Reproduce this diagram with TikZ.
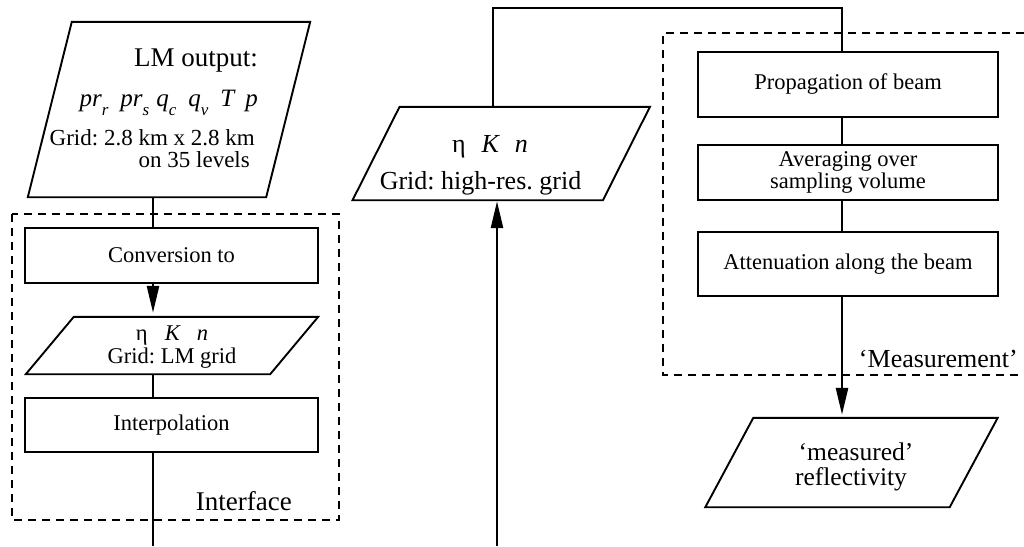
\documentclass[tikz,border=0pt]{standalone}
\usepackage{fontspec}
\setmainfont{Liberation Serif}
\usetikzlibrary{arrows.meta}
\frenchspacing
\newcommand\fs[1]{\fontsize{#1}{#1}\selectfont}
\newcommand\lsub[1]{\raisebox{-0.36em}{\fs{17}\itshape #1}}
% parallelogram drawn round an invisible node: #1 node name, #2 half of the slant
\newcommand\parashape[2]{\draw[line width=1.9pt, line join=miter]
  ([xshift=#2]#1.north west) -- ([xshift=#2]#1.north east) --
  ([xshift=-#2]#1.south east) -- ([xshift=-#2]#1.south west) -- cycle;}

\begin{document}
\begin{tikzpicture}[x=1pt, y=-1pt,
  box/.style={draw, line width=1.9pt, inner sep=0pt, font=\fs{22.5}, align=center},
  parabody/.style={inner sep=0pt},
  txt/.style={inner sep=0pt},
  conn/.style={line width=2.6pt, line join=miter},
  arr/.style={line width=2.6pt, -{Triangle[length=27pt,width=12pt]}},
  group/.style={line width=1.4pt, dash pattern=on 8pt off 6pt},
]
\useasboundingbox (0,0) rectangle (1024,546);

% column positions of the connectors
\coordinate (lcol) at (153,0);
\coordinate (mtop) at (493,0);
\coordinate (mcol) at (497,0);
\coordinate (rcol) at (842,0);
\coordinate (roof) at (0,8);
\coordinate (lend) at (153,546);
\coordinate (mstart) at (497,546);

% ---------- left column: interface ----------
\node[parabody, minimum width=238pt, minimum height=175pt] (lm) at (169,109.5) {};
\parashape{lm}{22pt}
\node[txt, anchor=base east, font=\fs{27}] (lmtitle) at (258,66) {LM output:};
\node[txt, anchor=base east, font=\fs{25}\itshape] (lmvars) at (258,106)
  {pr\lsub{r}\hspace{12pt}pr\lsub{s}\hspace{7pt}q\lsub{c}\hspace{12pt}q\lsub{v}\hspace{12pt}T\hspace{11pt}p};
\node[txt, anchor=base east, font=\fs{23}] (lmgrid) at (255,145) {Grid: 2.8 km x 2.8 km};
\node[txt, anchor=base east, font=\fs{23}] (lmlev) at (250,167) {on 35 levels};

\draw[group] (12,214) rectangle (339,520);
\node[txt, anchor=base east, font=\fs{27}] (iface) at (292,510) {Interface};

\node[box, minimum width=293pt, minimum height=55pt] (conv) at (171.5,255.5) {Conversion to};

\node[parabody, minimum width=244pt, minimum height=57pt] (p2) at (172,345.5) {};
\parashape{p2}{24pt}
\node[txt, anchor=base, font=\fs{22.5}] (p2vars) at (172,340)
  {η\hspace{17pt}{\itshape K}\hspace{17pt}{\itshape n}};
\node[txt, anchor=base, font=\fs{22.5}] (p2grid) at (172,363) {Grid: LM grid};

\node[box, minimum width=293pt, minimum height=54pt] (interp) at (171.5,425) {Interpolation};

% ---------- middle: high resolution fields ----------
\node[parabody, minimum width=250pt, minimum height=93pt] (p3) at (501.25,153.5) {};
\parashape{p3}{23.5pt}
\node[txt, anchor=base, font=\fs{26}] (p3vars) at (490,152)
  {η\hspace{16pt}{\itshape K}\hspace{16pt}{\itshape n}};
\node[txt, anchor=base, font=\fs{26}] (p3grid) at (480.5,189) {Grid: high-res. grid};

% ---------- right column: measurement ----------
\draw[group] (1024,33) -- (663,33) -- (663,375) -- (1024,375);
\node[txt, anchor=base east, font=\fs{26}] (meas) at (1018,367) {‘Measurement’};

\node[box, minimum width=300pt, minimum height=65pt] (prop) at (848,84.5) {Propagation of beam};
\node[box, minimum width=300pt, minimum height=55pt, font=\fontsize{22.5}{17}\selectfont] (avg) at (848,172.5)
  {Averaging over\\sampling volume};
\node[box, minimum width=300pt, minimum height=64pt] (atten) at (848,264) {Attenuation along the beam};

\node[parabody, minimum width=244pt, minimum height=89pt] (p4) at (851.5,462.5) {};
\parashape{p4}{24pt}
\node[txt, anchor=base, font=\fs{25.5}] (p4a) at (856,460) {‘measured’};
\node[txt, anchor=base, font=\fs{25.5}] (p4b) at (851,485) {reflectivity};

% ---------- connectors ----------
\draw[conn] (lm.south -| lcol) -- (conv.north -| lcol);
\draw[arr, shorten >=4pt] (conv.south -| lcol) -- (p2.north -| lcol);
\draw[conn] (p2.south -| lcol) -- (interp.north -| lcol);
\draw[conn] (interp.south -| lcol) -- (lend);
\draw[arr, shorten >=1pt] (mstart) -- (p3.south -| mcol);
\draw[conn] (p3.north -| mtop) -- (mtop |- roof) -- (rcol |- roof) -- (prop.north -| rcol);
\draw[conn] (prop.south -| rcol) -- (avg.north -| rcol);
\draw[conn] (avg.south -| rcol) -- (atten.north -| rcol);
\draw[arr, shorten >=3pt] (atten.south -| rcol) -- (p4.north -| rcol);
\end{tikzpicture}
\end{document}
